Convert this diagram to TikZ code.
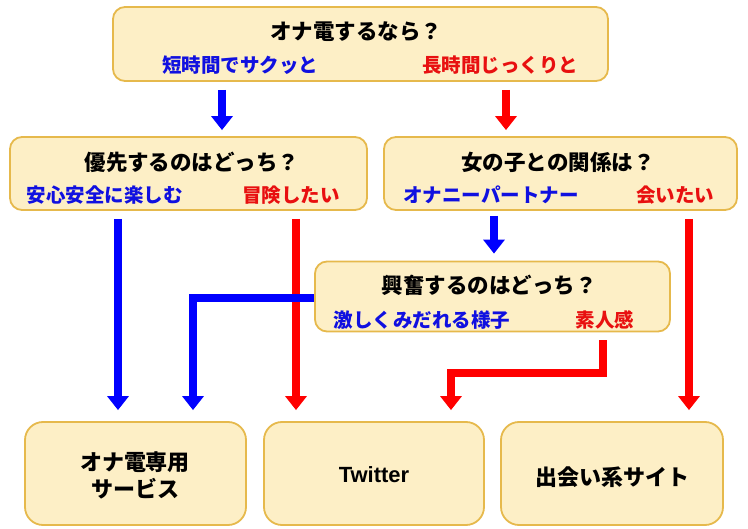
\documentclass[tikz,border=0pt]{standalone}
\usepackage{fontspec}
\setmainfont{Noto Sans CJK JP}
\newfontfamily\latinfont{Liberation Sans}
\usetikzlibrary{arrows.meta,calc}
\definecolor{boxfill}{HTML}{FDEFC6}
\definecolor{boxline}{HTML}{E6B94C}
\definecolor{ablue}{HTML}{0000FF}
\definecolor{ared}{HTML}{FF0000}
\definecolor{tblue}{HTML}{1010E0}
\definecolor{tred}{HTML}{E81010}
\begin{document}
\begin{tikzpicture}[x=1pt,y=-1pt,
  box/.style={draw=boxline,fill=boxfill,line width=1.8pt,rounded corners=12pt,inner sep=0pt},
  endbox/.style={box,rounded corners=18pt,minimum width=220pt,minimum height=103pt},
  title/.style={font=\bfseries\fontsize{21.5}{24}\selectfont,inner sep=0pt},
  bsub/.style={font=\bfseries\fontsize{19.5}{22}\selectfont,text=tblue,inner sep=0pt},
  rsub/.style={font=\bfseries\fontsize{19.5}{22}\selectfont,text=tred,inner sep=0pt},
  endtext/.style={font=\bfseries\fontsize{22}{27}\selectfont,inner sep=0pt,align=center},
  barrow/.style={draw=ablue,line width=8pt,-{Triangle[width=21pt,length=14pt]}},
  rarrow/.style={draw=ared,line width=8pt,-{Triangle[width=21pt,length=14pt]}}]
\useasboundingbox (0,0) rectangle (748,529);

% boxes
\node[box,minimum width=495pt,minimum height=74pt] (top) at (360.5,44) {};
\node[box,minimum width=357pt,minimum height=73pt] (lbox) at (188.5,173.5) {};
\node[box,minimum width=353pt,minimum height=73pt] (rbox) at (560.5,173.5) {};
\node[box,minimum width=355pt,minimum height=70pt] (mbox) at (492.5,296.5) {};
\node[endbox,minimum width=221pt] (b1) at (135.5,473.5) {};
\node[endbox] (b2) at (374,473.5) {};
\node[endbox,minimum width=222pt] (b3) at (612,473.5) {};

% texts
\node[title] (topt) at (356,32) {オナ電するなら？};
\node[bsub] (topb) at (240,65) {短時間でサクッと};
\node[rsub] (topr) at (500,65) {長時間じっくりと};

\node[title] (lt) at (192,162) {優先するのはどっち？};
\node[bsub] (lb) at (105,195) {安心安全に楽しむ};
\node[rsub] (lr) at (291,195) {冒険したい};

\node[title] (rt) at (558,162) {女の子との関係は？};
\node[bsub] (rb) at (491,195) {オナニーパートナー};
\node[rsub] (rr) at (675,195) {会いたい};

\node[title] (mt) at (489,285) {興奮するのはどっち？};
\node[bsub] (mb) at (422,320) {激しくみだれる様子};
\node[rsub] (mr) at (605,320) {素人感};

\node[endtext] (b1t) at (135,475) {オナ電専用\\サービス};
\node[endtext,font=\latinfont\bfseries\fontsize{22}{27}\selectfont] (b2t) at (374,475) {Twitter};
\node[endtext] (b3t) at (612,477) {出会い系サイト};

% connector columns
\coordinate (c1) at (222,0);
\coordinate (c2) at (506,0);
\coordinate (c3) at (118,0);
\coordinate (c4) at (296,0);
\coordinate (c5) at (494,0);
\coordinate (c6) at (689,0);
\coordinate (e1) at (193,298);
\coordinate (e2) at (603,373);
\coordinate (e3) at (451,373);

\draw[barrow,shorten <=8pt,shorten >=6pt] (top.south -| c1) -- (lbox.north -| c1);
\draw[rarrow,shorten <=8pt,shorten >=6pt] (top.south -| c2) -- (rbox.north -| c2);
\draw[barrow,shorten <=8pt,shorten >=11pt] (lbox.south -| c3) -- (b1.north -| c3);
\draw[rarrow,shorten <=8pt,shorten >=11pt] (lbox.south -| c4) -- (b2.north -| c4);
\draw[barrow,shorten <=5pt,shorten >=7pt] (rbox.south -| c5) -- (mbox.north -| c5);
\draw[rarrow,shorten <=8pt,shorten >=11pt] (rbox.south -| c6) -- (b3.north -| c6);
\draw[barrow,shorten >=11pt] (mbox.west |- e1) -- (e1) -- (b1.north -| e1);
\draw[rarrow,shorten <=8pt,shorten >=11pt] (mbox.south -| e2) -- (e2) -- (e3) -- (b2.north -| e3);
\end{tikzpicture}
\end{document}
